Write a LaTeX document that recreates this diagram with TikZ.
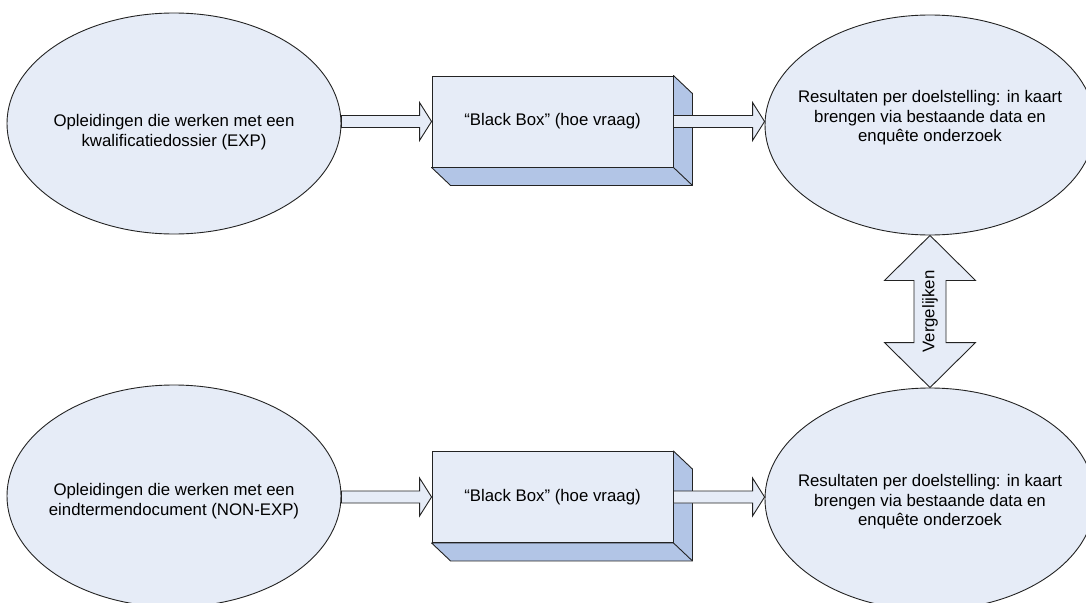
\documentclass[tikz,border=0pt]{standalone}
\usepackage{fontspec}
\setmainfont{Liberation Sans}
\usetikzlibrary{shapes.geometric,calc,backgrounds}
\definecolor{fillblue}{RGB}{230,236,247}
\definecolor{sideblue}{RGB}{178,197,230}
\definecolor{edgecol}{RGB}{35,35,35}
\begin{document}
\begin{tikzpicture}[x=1pt,y=-1pt,
  oval/.style={ellipse, draw=edgecol, fill=fillblue, line width=0.9pt, inner sep=0pt},
  lbl/.style={font=\fontsize{16.8}{19.4}\selectfont, align=center, text=black, inner sep=0pt},
  frontbox/.style={rectangle, draw=edgecol, fill=fillblue, line width=0.9pt, minimum width=241pt, minimum height=91pt, inner sep=0pt, font=\fontsize{16.8}{19.4}\selectfont},
  sideface/.style={draw=edgecol, fill=sideblue, line width=0.9pt, line join=round},
  barrow/.style={draw=edgecol, fill=fillblue, line width=0.9pt, line join=miter}]
\useasboundingbox (0,0) rectangle (1086,602);
\clip (0,0) rectangle (1086,602);
% ellipses
\node[oval, minimum width=334pt, minimum height=221pt] (e1) at (174,123.5) {};
\node[oval, minimum width=330pt, minimum height=220pt] (e2) at (930,125) {};
\node[oval, minimum width=334pt, minimum height=222pt] (e3) at (174,496) {};
\node[oval, minimum width=330pt, minimum height=222pt] (e4) at (930,499) {};
% ellipse texts
\node[lbl] (t1) at (174,132) {Opleidingen die werken met een\\kwalificatiedossier (EXP)};
\node[lbl] (t2) at (930,118) {Resultaten per doelstelling: in kaart\\brengen via bestaande data en\\enquête onderzoek};
\node[lbl] (t3) at (174,501) {Opleidingen die werken met een\\eindtermendocument (NON-EXP)};
\node[lbl] (t4) at (930,502) {Resultaten per doelstelling: in kaart\\brengen via bestaande data en\\enquête onderzoek};
% boxes
\node[frontbox] (b1) at (552.5,121.5) {“Black Box” (hoe vraag)};
\node[frontbox] (b2) at (552.5,497) {“Black Box” (hoe vraag)};
\begin{pgfonlayer}{background}
\foreach \b in {b1,b2}{
  \draw[sideface] (\b.north east) -- ++(19,18) -- ($(\b.south east)+(19,18)$) -- ($(\b.south west)+(19,18)$) -- (\b.south west) -- (\b.south east) -- cycle;
  \draw[sideface] (\b.south east) -- ++(19,18);
}
\end{pgfonlayer}
% block arrows
\draw[barrow] ($(e1.east |- b1.west)+(0,-6)$) -- ($(b1.west)+(-12,-6)$) -- ($(b1.west)+(-12,-19)$) -- (b1.west) -- ($(b1.west)+(-12,19)$) -- ($(b1.west)+(-12,6)$) -- ($(e1.east |- b1.west)+(0,6)$) -- cycle;
\draw[barrow] ($(b1.east)+(0,-6)$) -- ($(e2.west |- b1.east)+(-12,-6)$) -- ($(e2.west |- b1.east)+(-12,-19)$) -- (e2.west |- b1.east) -- ($(e2.west |- b1.east)+(-12,19)$) -- ($(e2.west |- b1.east)+(-12,6)$) -- ($(b1.east)+(0,6)$) -- cycle;
\draw[barrow] ($(e3.east |- b2.west)+(0,-6)$) -- ($(b2.west)+(-12,-6)$) -- ($(b2.west)+(-12,-19)$) -- (b2.west) -- ($(b2.west)+(-12,19)$) -- ($(b2.west)+(-12,6)$) -- ($(e3.east |- b2.west)+(0,6)$) -- cycle;
\draw[barrow] ($(b2.east)+(0,-6)$) -- ($(e4.west |- b2.east)+(-12,-6)$) -- ($(e4.west |- b2.east)+(-12,-19)$) -- (e4.west |- b2.east) -- ($(e4.west |- b2.east)+(-12,19)$) -- ($(e4.west |- b2.east)+(-12,6)$) -- ($(b2.east)+(0,6)$) -- cycle;
% double arrow
\draw[barrow] (e2.south) -- ++(45.5,45) -- ++(-29.5,0) -- ($(e4.north)+(16,-45)$) -- ++(29.5,0) -- (e4.north) -- ++(-45.5,-45) -- ++(29.5,0) -- ($(e2.south)+(-16,45)$) -- ++(-29.5,0) -- cycle;
\node[lbl, rotate=90] (v) at ($(e2.south)!0.5!(e4.north)$) {Vergelijken};
\end{tikzpicture}
\end{document}
